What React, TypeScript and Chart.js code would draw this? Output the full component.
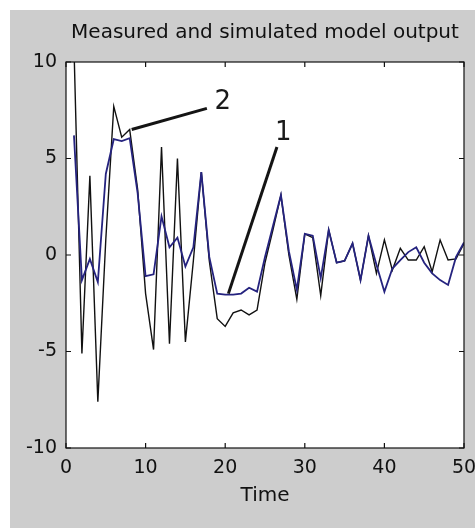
import React, { useEffect, useRef } from "react";
import { Chart, registerables } from "chart.js";

Chart.register(...registerables);

// ---- data ----
const times = [
  1, 2, 3, 4, 5, 6, 7, 8, 9, 10,
  11, 12, 13, 14, 15, 16, 17, 18, 19, 20,
  21, 22, 23, 24, 25, 26, 27, 28, 29, 30,
  31, 32, 33, 34, 35, 36, 37, 38, 39, 40,
  41, 42, 43, 44, 45, 46, 47, 48, 49, 50,
];

const measured = [
  10.8, -5.1, 4.1, -7.6, 0.8, 7.7, 6.1, 6.5, 3.4, -2.0,
  -4.9, 5.6, -4.6, 5.0, -4.5, -0.3, 4.3, -0.3, -3.3, -3.7,
  -3.0, -2.85, -3.1, -2.85, -0.4, 1.3, 3.1, 0.0, -2.3, 1.1,
  0.9, -2.1, 1.3, -0.4, -0.3, 0.6, -1.3, 1.0, -0.95, 0.78,
  -0.78, 0.35, -0.26, -0.26, 0.43, -0.86, 0.78, -0.26, -0.2, 0.6,
];

const simulated = [
  6.2, -1.3, -0.2, -1.4, 4.2, 6.0, 5.9, 6.05, 3.2, -1.1,
  -1.0, 2.0, 0.4, 0.9, -0.6, 0.4, 4.3, -0.1, -2.0, -2.05,
  -2.05, -2.0, -1.7, -1.9, -0.1, 1.5, 3.1, 0.2, -1.8, 1.1,
  1.0, -1.2, 1.3, -0.4, -0.3, 0.6, -1.3, 1.0, -0.5, -1.9,
  -0.7, -0.26, 0.15, 0.4, -0.4, -0.95, -1.3, -1.55, -0.1, 0.65,
];

const xTicks = [0, 10, 20, 30, 40, 50];
const yTicks = [-10, -5, 0, 5, 10];

// annotation pointer lines (data coordinates) and their labels
const pointer1X = [20.4, 26.5];
const pointer1Y = [-2.0, 5.6];
const pointer2X = [8.25, 17.7];
const pointer2Y = [6.5, 7.6];
const labelTexts = ["1", "2"];
const labelX = [27.3, 19.7];
const labelY = [6.3, 7.9];

const titleText = "Measured and simulated model output";
const xTitle = "Time";

const FONT = "'DejaVu Sans', sans-serif";
const TEXT = "#111111";

function pairs(xs: number[], ys: number[]) {
  return xs.map((x, i) => ({ x, y: ys[i] }));
}

const framePlugin = {
  id: "frame",
  beforeDatasetsDraw(chart: any) {
    const { ctx, chartArea } = chart;
    ctx.save();
    ctx.fillStyle = "#ffffff";
    ctx.fillRect(chartArea.left, chartArea.top, chartArea.right - chartArea.left, chartArea.bottom - chartArea.top);
    ctx.restore();
  },
  afterDatasetsDraw(chart: any) {
    const { ctx, chartArea, scales } = chart;
    const { left, right, top, bottom } = chartArea;
    ctx.save();
    ctx.strokeStyle = "#111111";
    ctx.lineWidth = 1.2;
    ctx.strokeRect(left, top, right - left, bottom - top);
    const tl = 5;
    ctx.beginPath();
    xTicks.forEach((v) => {
      const px = scales.x.getPixelForValue(v);
      ctx.moveTo(px, bottom);
      ctx.lineTo(px, bottom - tl);
      ctx.moveTo(px, top);
      ctx.lineTo(px, top + tl);
    });
    yTicks.forEach((v) => {
      const py = scales.y.getPixelForValue(v);
      ctx.moveTo(left, py);
      ctx.lineTo(left + tl, py);
      ctx.moveTo(right, py);
      ctx.lineTo(right - tl, py);
    });
    ctx.stroke();
    ctx.fillStyle = "#1a1a1a";
    ctx.font = `26px ${FONT}`;
    ctx.textAlign = "center";
    ctx.textBaseline = "middle";
    labelTexts.forEach((t, i) => {
      ctx.fillText(t, scales.x.getPixelForValue(labelX[i]), scales.y.getPixelForValue(labelY[i]));
    });
    ctx.restore();
  },
};

export default function App() {
  const ref = useRef<HTMLCanvasElement | null>(null);

  useEffect(() => {
    if (!ref.current) return;
    const chart = new Chart(ref.current, {
      type: "line",
      data: {
        datasets: [
          {
            data: pairs(pointer1X, pointer1Y),
            borderColor: "#141414",
            borderWidth: 3,
            pointRadius: 0,
            tension: 0,
          },
          {
            data: pairs(pointer2X, pointer2Y),
            borderColor: "#141414",
            borderWidth: 3,
            pointRadius: 0,
            tension: 0,
          },
          {
            label: "Simulated",
            data: pairs(times, simulated),
            borderColor: "#25237f",
            borderWidth: 1.8,
            pointRadius: 0,
            tension: 0,
          },
          {
            label: "Measured",
            data: pairs(times, measured),
            borderColor: "#111111",
            borderWidth: 1.4,
            pointRadius: 0,
            tension: 0,
          },
        ],
      },
      options: {
        animation: false,
        responsive: false,
        devicePixelRatio: 1,
        layout: { padding: { left: 0, right: 26, top: 0, bottom: 0 } },
        plugins: {
          legend: { display: false },
          tooltip: { enabled: false },
          title: {
            display: true,
            text: titleText,
            fullSize: false,
            color: TEXT,
            font: { family: FONT, size: 20, weight: "normal" },
            padding: { top: 11, bottom: 17 },
          },
        },
        scales: {
          x: {
            type: "linear",
            min: 0,
            max: 50,
            afterBuildTicks: (s: any) => {
              s.ticks = xTicks.map((v) => ({ value: v }));
            },
            ticks: {
              color: TEXT,
              font: { family: FONT, size: 19 },
              padding: 9,
              maxRotation: 0,
              autoSkip: false,
            },
            grid: { display: false, drawTicks: false },
            border: { display: false },
            title: {
              display: true,
              text: xTitle,
              color: TEXT,
              font: { family: FONT, size: 20 },
              padding: { top: 20, bottom: 20 },
            },
            afterFit: (s: any) => {
              s.height = 80;
            },
          },
          y: {
            type: "linear",
            min: -10,
            max: 10,
            afterBuildTicks: (s: any) => {
              s.ticks = yTicks.map((v) => ({ value: v }));
            },
            ticks: {
              color: TEXT,
              font: { family: FONT, size: 19 },
              padding: 9,
            },
            grid: { display: false, drawTicks: false },
            border: { display: false },
            afterFit: (s: any) => {
              s.width = 56;
            },
          },
        },
      } as any,
      plugins: [framePlugin],
    });
    return () => chart.destroy();
  }, []);

  return (
    <div
      style={{
        position: "absolute",
        left: 10,
        top: 10,
        width: 465,
        height: 518,
        overflow: "hidden",
        background: "#cdcdcd",
      }}
    >
      <canvas ref={ref} width={480} height={518} style={{ display: "block" }} />
    </div>
  );
}
